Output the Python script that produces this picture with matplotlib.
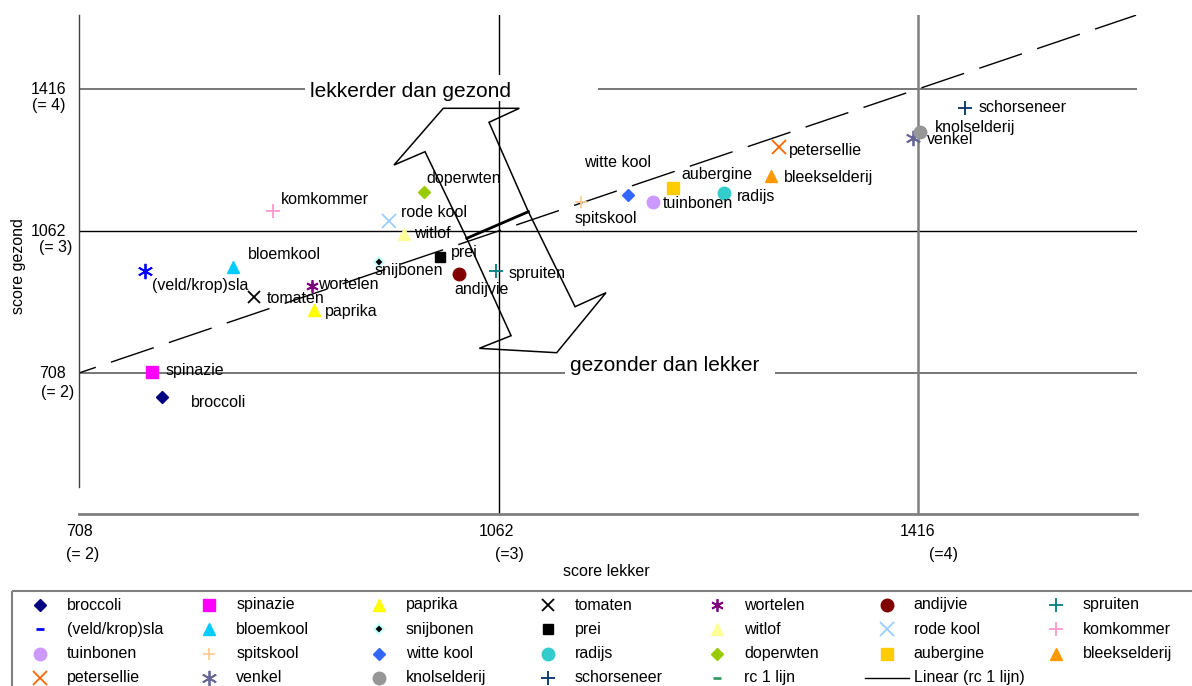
import matplotlib
matplotlib.use('Agg')
import matplotlib.pyplot as plt
from matplotlib.patches import Polygon, Rectangle

plt.rcParams['font.family'] = ['Liberation Sans', 'DejaVu Sans']

# ---------------- data ----------------
groenten = ['broccoli', 'spinazie', 'paprika', 'tomaten', 'wortelen', 'andijvie', 'spruiten',
            '(veld/krop)sla', 'bloemkool', 'snijbonen', 'prei', 'witlof', 'rode kool', 'komkommer',
            'tuinbonen', 'spitskool', 'witte kool', 'radijs', 'doperwten', 'aubergine', 'bleekselderij',
            'petersellie', 'venkel', 'knolselderij', 'schorseneer']
score_lekker = [778, 770, 906, 856, 905, 1029, 1060,
                764, 838, 961, 1013, 982, 970, 872,
                1192, 1132, 1171, 1252, 999, 1209, 1292,
                1299, 1412, 1418, 1456]
score_gezond = [648, 710, 865, 897, 925, 955, 962,
                962, 972, 985, 997, 1054, 1087, 1112,
                1134, 1134, 1152, 1157, 1159, 1169, 1199,
                1271, 1294, 1309, 1369]
rc_x = [708, 1600]
rc_y = [708, 1600]

tick_values = [708, 1062, 1416]
tick_x_scores = ['(= 2)', '(=3)', '(=4)']
tick_y_scores = ['(= 2)', '(= 3)', '(= 4)']

# arrow annotation shape (data coords)
arrow_upper = [(1015.4, 1367.9), (1079.6, 1367.9), (1054.0, 1333.0), (1087.2, 1110.1),
               (1035.2, 1043.8), (1000.0, 1259.7), (973.8, 1226.5)]
arrow_lower = [(1035.2, 1043.8), (1087.2, 1110.1), (1126.6, 873.3), (1152.7, 908.2),
               (1111.1, 758.6), (1045.8, 769.5), (1072.6, 801.0)]

# ---------------- styles ----------------
AST = (6, 2, 0)
styles = [
    ('D', '#000080', '#000080', 6.5),   # broccoli
    ('s', '#FF00FF', '#FF00FF', 8.5),   # spinazie
    ('^', '#FFFF00', '#FFFF00', 8.5),   # paprika
    ('x', '#000000', '#000000', 9),     # tomaten
    (AST, '#800080', '#800080', 9),     # wortelen
    ('o', '#800000', '#800000', 9),     # andijvie
    ('+', '#008080', '#008080', 10),    # spruiten
    (AST, '#0000FF', '#0000FF', 11),    # sla
    ('^', '#00CCFF', '#00CCFF', 9),     # bloemkool
    ('D', '#000000', '#CCFFFF', 5.5),   # snijbonen
    ('s', '#000000', '#000000', 7),     # prei
    ('^', '#FFFF99', '#FFFF99', 9),     # witlof
    ('x', '#99CCFF', '#99CCFF', 10),    # rode kool
    ('+', '#FF99CC', '#FF99CC', 10),    # komkommer
    ('o', '#CC99FF', '#CC99FF', 9),     # tuinbonen
    ('+', '#FFCC99', '#FFCC99', 9),     # spitskool
    ('D', '#3366FF', '#3366FF', 6.5),   # witte kool
    ('o', '#33CCCC', '#33CCCC', 9),     # radijs
    ('D', '#99CC00', '#99CC00', 6.5),   # doperwten
    ('s', '#FFCC00', '#FFCC00', 8.5),   # aubergine
    ('^', '#FF9900', '#FF9900', 9),     # bleekselderij
    ('x', '#FF6600', '#FF6600', 10),    # petersellie
    (AST, '#666699', '#666699', 11),    # venkel
    ('o', '#969696', '#969696', 9),     # knolselderij
    ('+', '#003366', '#003366', 10),    # schorseneer
]
label_offsets = [(29, -5), (13, 2), (11, -1), (12, -1), (6, 1), (-5, -16), (12, -2),
                 (7, -14), (15, 13), (-4, -9), (10, 5), (10, 1), (12, 8), (8, 11),
                 (10, -1), (-7, -16), (-44, 32), (13, -4), (3, 14), (9, 14), (13, -1),
                 (10, -3), (14, -2), (14, 4), (13, 0)]

W, H = 1192, 686
fig = plt.figure(figsize=(W / 100, H / 100), dpi=100)
ax = fig.add_axes([79 / W, 1 - 514 / H, (1137 - 79) / W, (514 - 15) / H])
ax.set_xlim(708, 1600.8)
ax.set_ylim(356.5, 1600.5)
ax.set_xticks([])
ax.set_yticks([])
for s in ['top', 'right']:
    ax.spines[s].set_visible(False)
ax.spines['bottom'].set_color('#808080')
ax.spines['bottom'].set_linewidth(2)
ax.spines['left'].set_color('#404040')
ax.spines['left'].set_linewidth(1)
ax.spines['left'].set_bounds(424, 1600.5)

FS = 11.5

# reference lines
ax.axhline(1416, color='#606060', lw=1.2, zorder=1)
ax.axhline(1062, color='#000000', lw=1.0, zorder=1)
ax.axhline(708, color='#606060', lw=1.2, zorder=1)
ax.axvline(1062, color='#000000', lw=1.0, zorder=1)
ax.axvline(1416, color='#808080', lw=1.8, zorder=1)

# trend line (rc 1)
ax.plot(rc_x, rc_y, color='black', lw=1.0, linestyle=(19.7, (32.5, 11.5)), zorder=1.5)

# white boxes behind the big labels
ax.add_patch(Rectangle((898.7, 1386.1), 1146.0 - 898.7, 1450.9 - 1386.1,
                       facecolor='white', edgecolor='none', zorder=2))
ax.add_patch(Rectangle((1118.1, 678.1), 1295.3 - 1118.1, 752.9 - 678.1,
                       facecolor='white', edgecolor='none', zorder=2))
ax.annotate('lekkerder dan gezond', xy=(898.7, 1416), xytext=(5, -2),
            textcoords='offset pixels', ha='left', va='center', fontsize=15, zorder=2.5)
ax.annotate('gezonder dan lekker', xy=(1118.1, 708), xytext=(5, 8),
            textcoords='offset pixels', ha='left', va='center', fontsize=15, zorder=2.5)

# arrow
ax.add_patch(Polygon(arrow_upper, closed=True, fill=False, edgecolor='black', lw=1.1, zorder=3))
ax.add_patch(Polygon(arrow_lower, closed=True, fill=False, edgecolor='black', lw=1.1, zorder=3))
ax.plot([arrow_upper[3][0], arrow_upper[4][0]], [arrow_upper[3][1], arrow_upper[4][1]],
        color='black', lw=2.0, zorder=3)

# points and labels
for i, name in enumerate(groenten):
    m, fc, ec, ms = styles[i]
    mew = 1.3 if m in ('x', '+', AST) else (1.6 if name == 'snijbonen' else 1.0)
    ax.plot(score_lekker[i], score_gezond[i], linestyle='none', marker=m, ms=ms,
            markerfacecolor=fc, markeredgecolor=ec, mew=mew, color=fc, zorder=4)
    ax.annotate(name, xy=(score_lekker[i], score_gezond[i]), xytext=label_offsets[i],
                textcoords='offset pixels', ha='left', va='center', fontsize=FS, zorder=5)

# tick labels
xt = ax.get_xaxis_transform()
yt = ax.get_yaxis_transform()
x_off_val = [(-13, -18), (-20, -18), (-18, -18)]
x_off_sc = [(-13, -40), (-4, -40), (11, -40)]
for v, sc, o1, o2 in zip(tick_values, tick_x_scores, x_off_val, x_off_sc):
    ax.annotate(str(v), xy=(v, 0), xycoords=xt, xytext=o1, textcoords='offset pixels',
                ha='left', va='center', fontsize=FS, annotation_clip=False)
    ax.annotate(sc, xy=(v, 0), xycoords=xt, xytext=o2, textcoords='offset pixels',
                ha='left', va='center', fontsize=FS, annotation_clip=False)
y_off_sc = [(-5, -19), (-7, -16), (-13, -16)]
for v, sc, o2 in zip(tick_values, tick_y_scores, y_off_sc):
    ax.annotate(str(v), xy=(0, v), xycoords=yt, xytext=(-13, 0), textcoords='offset pixels',
                ha='right', va='center', fontsize=FS, annotation_clip=False)
    ax.annotate(sc, xy=(0, v), xycoords=yt, xytext=o2, textcoords='offset pixels',
                ha='right', va='center', fontsize=FS, annotation_clip=False)

fig.text(563 / W, 1 - 571 / H, 'score lekker', ha='left', va='center', fontsize=FS)
fig.text(19 / W, 1 - 266 / H, 'score gezond', ha='center', va='center', rotation=90, fontsize=FS)

# ---------------- legend (drawn on an overlay in pixel coords) ----------------
lax = fig.add_axes([0, 0, 1, 1], zorder=-1)
lax.set_xlim(0, W)
lax.set_ylim(H, 0)
lax.axis('off')
lax.add_patch(Rectangle((12, 591), 1190, 120, facecolor='none', edgecolor='#808080', lw=1.5))
legend_names = groenten + ['rc 1 lijn', 'Linear (rc 1 lijn)']
legend_styles = list(styles)
legend_styles[7] = ('_', '#0000FF', '#0000FF', 6)
for i, name in enumerate(legend_names):
    r, c = divmod(i, 7)
    mx = 40 + 169.3 * c
    my = 605 + 24.3 * r
    if name == 'Linear (rc 1 lijn)':
        lax.plot([mx - 22, mx + 22], [my, my], color='black', lw=1)
    elif name == 'rc 1 lijn':
        lax.plot(mx, my, marker='_', color='#339966', ms=6, mew=2)
    else:
        m, fc, ec, ms = legend_styles[i]
        mew = 2 if m == '_' else (1.3 if m in ('x', '+', AST) else (1.6 if name == 'snijbonen' else 1.0))
        lax.plot(mx, my, linestyle='none', marker=m, ms=ms, markerfacecolor=fc,
                 markeredgecolor=ec, mew=mew)
    lax.text(mx + 27, my, name, ha='left', va='center', fontsize=FS)

fig.savefig('out.png', dpi=100)
